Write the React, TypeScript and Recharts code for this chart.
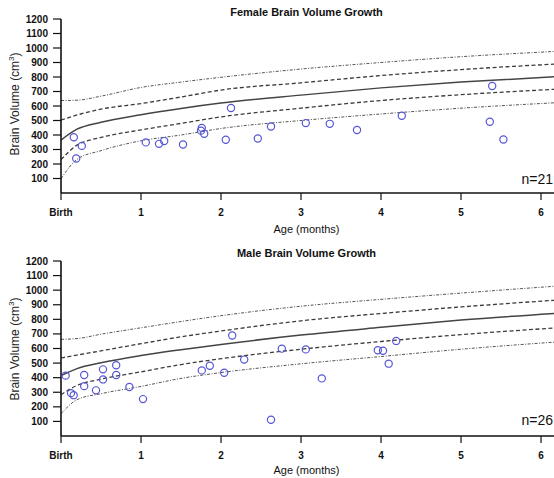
import { ComposedChart, Line, Scatter, XAxis, YAxis } from "recharts";

// age in months at which the reference curves were read
const curveAges = [0, 0.2, 0.5, 1, 1.5, 2, 3, 4, 5, 6.2];

const femaleUpperOuter = [638, 640, 668, 728, 765, 798, 855, 900, 940, 977];
const femaleUpperInner = [503, 538, 578, 617, 662, 710, 760, 810, 851, 890];
const femaleMedian = [365, 440, 488, 540, 583, 620, 675, 725, 765, 803];
const femaleLowerInner = [230, 330, 383, 435, 480, 525, 585, 638, 678, 716];
const femaleLowerOuter = [98, 232, 292, 360, 400, 445, 500, 545, 585, 623];

const maleUpperOuter = [663, 668, 698, 742, 785, 825, 890, 937, 980, 1028];
const maleUpperInner = [535, 555, 584, 633, 680, 720, 790, 840, 885, 932];
const maleMedian = [414, 462, 502, 552, 592, 628, 692, 745, 795, 842];
const maleLowerInner = [283, 347, 390, 440, 490, 530, 595, 648, 695, 742];
const maleLowerOuter = [153, 249, 290, 340, 395, 435, 495, 545, 595, 645];

const femaleAges = [0.16, 0.19, 0.26, 1.06, 1.225, 1.29, 1.525, 1.76, 1.75, 1.79, 2.06, 2.125, 2.46, 2.625, 3.06, 3.36, 3.7, 4.26, 5.39, 5.36, 5.53];
const femaleVolumes = [385, 238, 325, 349, 339, 358, 335, 449, 430, 408, 367, 586, 376, 459, 482, 477, 434, 533, 738, 491, 369];

const maleAges = [0.058, 0.125, 0.158, 0.29, 0.29, 0.4375, 0.525, 0.525, 0.69, 0.69, 0.855, 1.025, 1.76, 1.86, 2.04, 2.14, 2.29, 2.625, 2.76, 3.06, 3.26, 3.96, 4.025, 4.096, 4.19];
const maleVolumes = [414, 294, 280, 418, 342, 313, 457, 388, 485, 418, 336, 253, 450, 482, 434, 689, 524, 111, 599, 594, 395, 588, 585, 496, 652];

const xTicks = [0, 1, 2, 3, 4, 5, 6];
const yTicks = [100, 200, 300, 400, 500, 600, 700, 800, 900, 1000, 1100, 1200];

const font = '"Liberation Sans", Arial, sans-serif';
const ink = "#111";

function buildCurves(lo2: number[], lo1: number[], med: number[], hi1: number[], hi2: number[]) {
	return curveAges.map((x, i) => ({ x, lo2: lo2[i], lo1: lo1[i], med: med[i], hi1: hi1[i], hi2: hi2[i] }));
}

function buildPoints(ages: number[], vols: number[]) {
	return ages.map((x, i) => ({ x, y: vols[i] }));
}

const femaleCurves = buildCurves(femaleLowerOuter, femaleLowerInner, femaleMedian, femaleUpperInner, femaleUpperOuter);
const maleCurves = buildCurves(maleLowerOuter, maleLowerInner, maleMedian, maleUpperInner, maleUpperOuter);
const femalePoints = buildPoints(femaleAges, femaleVolumes);
const malePoints = buildPoints(maleAges, maleVolumes);

const OpenCircle = (props: any) => (
	<circle cx={props.cx} cy={props.cy} r={3.6} fill="none" stroke="#5656d6" strokeWidth={1.2} />
);

function GrowthChart({ curves, points, height, marginTop, marginBottom }: any) {
	const outer = { stroke: "#555", strokeWidth: 1, strokeDasharray: "3 1.5 1 1.5" };
	const inner = { stroke: "#3c3c3c", strokeWidth: 1.3, strokeDasharray: "4 2.5" };
	return (
		<ComposedChart
			width={560}
			height={height}
			data={curves}
			margin={{ top: marginTop, right: 3, left: 0, bottom: marginBottom }}
		>
			<XAxis
				type="number"
				dataKey="x"
				domain={[0, 6.2]}
				ticks={xTicks}
				interval={0}
				allowDataOverflow
				tickFormatter={(v: number) => (v === 0 ? "Birth" : String(v))}
				tick={{ fontSize: 10, fontWeight: "bold", fill: ink, fontFamily: font }}
				axisLine={{ stroke: ink, strokeWidth: 1.6 }}
				tickLine={{ stroke: ink, strokeWidth: 1.2 }}
				tickSize={7}
				tickMargin={9}
				height={30}
			/>
			<YAxis
				type="number"
				domain={[0, 1200]}
				ticks={yTicks}
				interval={0}
				tick={{ fontSize: 10, fontWeight: "bold", fill: ink, fontFamily: font }}
				axisLine={{ stroke: ink, strokeWidth: 1.6 }}
				tickLine={{ stroke: ink, strokeWidth: 1.2 }}
				tickSize={8}
				tickMargin={5}
				width={61}
			/>
			<Line type="monotone" dataKey="hi2" {...outer} dot={false} isAnimationActive={false} />
			<Line type="monotone" dataKey="hi1" {...inner} dot={false} isAnimationActive={false} />
			<Line type="monotone" dataKey="med" stroke="#444" strokeWidth={1.5} dot={false} isAnimationActive={false} />
			<Line type="monotone" dataKey="lo1" {...inner} dot={false} isAnimationActive={false} />
			<Line type="monotone" dataKey="lo2" {...outer} dot={false} isAnimationActive={false} />
			<Scatter data={points} dataKey="y" shape={OpenCircle} isAnimationActive={false} />
		</ComposedChart>
	);
}

const centered = (x: number, y: number): React.CSSProperties => ({
	position: "absolute",
	left: x,
	top: y,
	transform: "translate(-50%, -50%)",
	whiteSpace: "nowrap",
	lineHeight: 1,
});

function Annotations({ top, title, n, yLabelY }: any) {
	return (
		<>
			<div style={{ ...centered(306.5, top + 12), fontSize: 11, fontWeight: "bold", color: ink }}>{title}</div>
			<div style={{ ...centered(306.5, top + 229), fontSize: 11, color: ink }}>Age (months)</div>
			<div
				style={{
					position: "absolute",
					right: 1,
					top: top + 179,
					transform: "translateY(-50%)",
					lineHeight: 1,
					fontSize: 14,
					color: ink,
				}}
			>
				{n}
			</div>
			<div
				style={{
					...centered(15, yLabelY),
					transform: "translate(-50%, -50%) rotate(-90deg)",
					fontSize: 12,
					color: "#222",
				}}
			>
				Brain Volume (cm<sup style={{ fontSize: 8, lineHeight: 0 }}>3</sup>)
			</div>
		</>
	);
}

export default function App() {
	return (
		<div
			style={{
				position: "fixed",
				left: 0,
				top: 0,
				width: 554,
				height: 478,
				overflow: "hidden",
				background: "#fff",
				fontFamily: font,
			}}
		>
			<div style={{ position: "absolute", left: 0, top: 0 }}>
				<GrowthChart curves={femaleCurves} points={femalePoints} height={240} marginTop={19} marginBottom={17} />
			</div>
			<div style={{ position: "absolute", left: 0, top: 240 }}>
				<GrowthChart curves={maleCurves} points={malePoints} height={238} marginTop={21} marginBottom={12} />
			</div>
			<Annotations top={0} title="Female Brain Volume Growth" n="n=21" yLabelY={104} />
			<Annotations top={241} title="Male Brain Volume Growth" n="n=26" yLabelY={349} />
		</div>
	);
}
